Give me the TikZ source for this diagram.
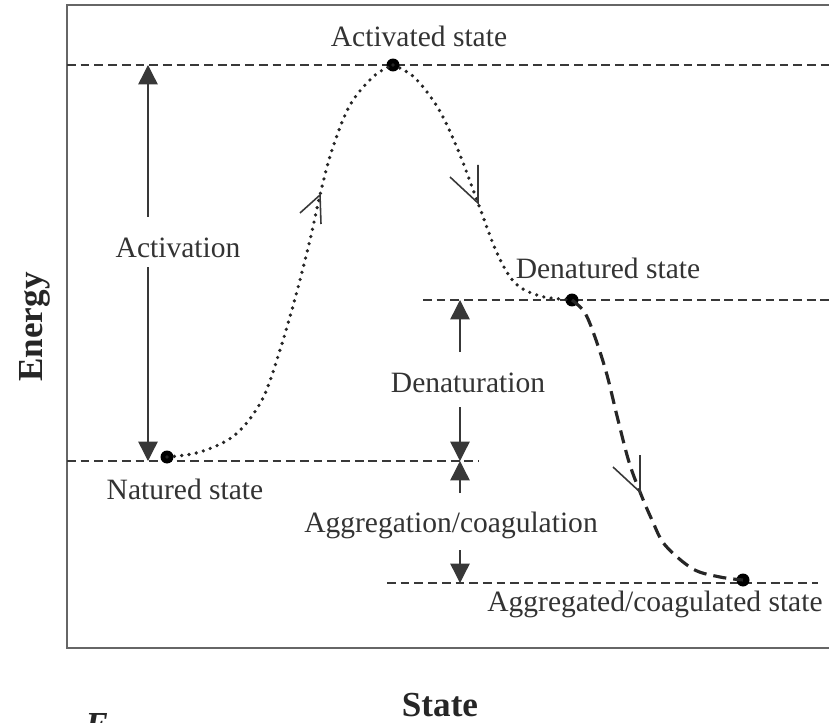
\documentclass[tikz,border=0pt]{standalone}
\usepackage{fontspec}
\setmainfont{Liberation Serif}
\usepackage{tikz}
\usetikzlibrary{arrows.meta}
\usetikzlibrary{positioning}
\definecolor{inkgray}{gray}{0.22}
\tikzstyle{frameline} = [draw=black!60, line width=1.3pt]
\tikzstyle{levelline} = [draw=inkgray, line width=0.8pt, dash pattern=on 5pt off 2.8pt]
\tikzstyle{gaparrow} = [draw=inkgray, line width=0.8pt, -{Triangle[length=11pt,width=11pt]}]
\tikzstyle{statelabel} = [inner sep=0pt, text=black!80, font=\fontsize{16.8}{20}\selectfont]
\tikzstyle{axislabel} = [inner sep=0pt, text=black!85, font=\fontsize{20}{24}\selectfont\bfseries]
\tikzstyle{statedot} = [circle, fill=black, inner sep=0pt, minimum size=0.26cm]
\tikzstyle{dotpath} = [draw=black!85, line width=2.1pt, line cap=round, dash pattern=on 0pt off 4.2pt]
\tikzstyle{dashpath} = [draw=black!85, line width=1.8pt, dash pattern=on 7.5pt off 4pt]
\tikzstyle{chevron} = [draw=inkgray, line width=0.9pt]

\begin{document}
\begin{tikzpicture}[x=0.02cm, y=-0.02cm, node distance=1cm]
\useasboundingbox (0,0) rectangle (829,723);

% frame (open to the right)
\draw[frameline] (845,5) -- (67,5) -- (67,648) -- (845,648);

% energy levels
\coordinate (actL) at (67,65);
\coordinate (actR) at (845,65);
\coordinate (natL) at (67,461);
\coordinate (natR) at (479,461);
\coordinate (denL) at (423,300);
\coordinate (denR) at (845,300);
\coordinate (aggL) at (387,583);
\coordinate (aggR) at (818,583);
\draw[levelline] (actL) -- (actR);
\draw[levelline] (natL) -- (natR);
\draw[levelline] (denL) -- (denR);
\draw[levelline] (aggL) -- (aggR);

% states
\node[statedot] (act) at (393,65) {};
\node[statedot] (nat) at (167,457) {};
\node[statedot] (den) at (572,300) {};
\node[statedot] (agg) at (743,580) {};

\node[statelabel] (actlab) at (419,36) {Activated state};
\node[statelabel] (natlab) at (185,489) {Natured state};
\node[statelabel] (denlab) at (608,268) {Denatured state};
\node[statelabel] (agglab) at (655,604) {Aggregated/coagulated state};

% energy gaps
\node[statelabel] (activation) at (178,248) {Activation};
\node[statelabel] (denaturation) at (468,383) {Denaturation};
\node[statelabel] (aggregation) at (451,525) {Aggregation/coagulation};

\coordinate (actTop) at (148,65);
\coordinate (actUp) at (148,217);
\coordinate (actDown) at (148,267);
\coordinate (actBot) at (148,461);
\draw[gaparrow] (actUp) -- (actTop);
\draw[gaparrow] (actDown) -- (actBot);

\coordinate (denTop) at (460,300);
\coordinate (denUp) at (460,352);
\coordinate (denDown) at (460,407);
\coordinate (denBot) at (460,461);
\draw[gaparrow] (denUp) -- (denTop);
\draw[gaparrow] (denDown) -- (denBot);

\coordinate (aggTop) at (460,461);
\coordinate (aggUp) at (460,493);
\coordinate (aggDown) at (460,550);
\coordinate (aggBot) at (460,583);
\draw[gaparrow] (aggUp) -- (aggTop);
\draw[gaparrow] (aggDown) -- (aggBot);

% reaction paths
\draw[dotpath] plot[smooth, tension=0.55] coordinates {(nat.center) (200,452) (235,435) (262,400) (280,350) (296,295) (310,240) (320,195) (332,150) (350,105) (374,76) (act.center)};
\draw[dotpath] plot[smooth, tension=0.55] coordinates {(act.center) (414,77) (438,108) (458,150) (478,203) (497,253) (515,283) (540,296) (den.center)};
\draw[dashpath] plot[smooth, tension=0.55] coordinates {(den.center) (585,313) (596,340) (607,375) (618,420) (629,462) (640,492) (652,520) (665,545) (693,569) (720,577) (agg.center)};

% open arrow marks on the paths
\draw[chevron] (300,213) -- (320,195) -- (321,224);
\draw[chevron] (450,177) -- (478,203) -- (478,165);
\draw[chevron] (613,467) -- (640,492) -- (640,455);

% axes
\node[axislabel, rotate=90] (energy) at (35,327) {Energy};
\node[axislabel] (state) at (440,705) {State};
\node[axislabel, font=\fontsize{20}{24}\selectfont\bfseries\itshape, anchor=north] (elabel) at (97,713) {E};
\end{tikzpicture}
\end{document}
